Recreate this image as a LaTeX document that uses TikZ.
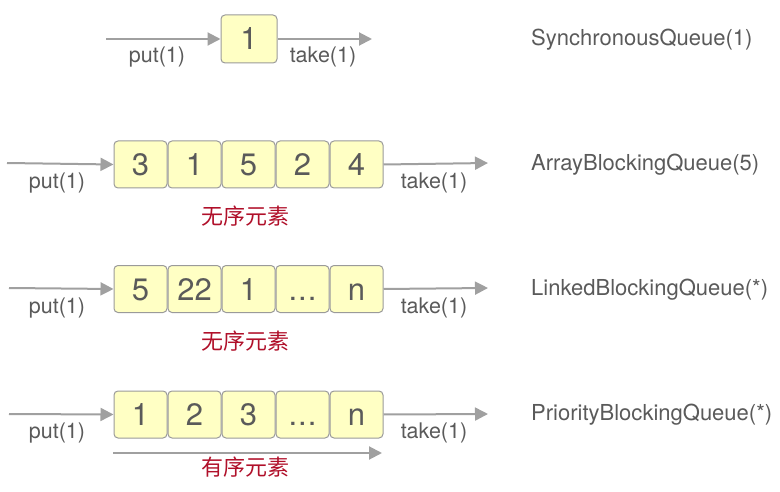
\documentclass[tikz,border=0pt]{standalone}
\usepackage{fontspec}
\setmainfont{TeX Gyre Heros}
\newfontfamily\cjk{Noto Sans CJK SC}
\usetikzlibrary{arrows.meta}
\definecolor{boxfill}{HTML}{FFFFC4}
\definecolor{boxline}{HTML}{9A9A9A}
\definecolor{arrowc}{HTML}{A0A0A0}
\definecolor{txt}{HTML}{5A5A5A}
\definecolor{redtxt}{HTML}{B0102A}
\newcommand{\mydots}{.\kern1pt.\kern1pt.}
\tikzset{
  cell/.style={draw=boxline, fill=boxfill, line width=1pt, rounded corners=4pt,
    minimum width=53pt, minimum height=47pt, inner sep=0pt, text=txt,
    text height=22pt, text depth=0pt,
    font=\fontsize{31}{31}\selectfont},
  flow/.style={draw=arrowc, line width=2pt, -{Triangle[length=13pt,width=13pt]}},
  lbl/.style={text=txt, font=\fontsize{21.5}{21.5}\selectfont, inner sep=0pt},
  qname/.style={text=txt, font=\fontsize{22}{22}\selectfont, inner sep=0pt, anchor=west},
  order/.style={text=redtxt, font=\cjk\fontsize{22}{22}\selectfont, inner sep=0pt}
}
\begin{document}
\begin{tikzpicture}[x=1pt,y=-1pt]
\useasboundingbox (0,0) rectangle (780,492);
% Row 1
\node[cell, minimum width=56pt, minimum height=48pt] (s1) at (249,39) {1};
\coordinate (s0) at (106,39);
\coordinate (sE) at (372,39);
\draw[flow] (s0) -- (s1.west);
\draw[flow] (s1.east) -- (sE);
\node[lbl] (sp) at (157,57) {put(1)};
\node[lbl] (st) at (323,57) {take(1)};
\node[qname] (sq) at (531,40) {SynchronousQueue(1)};
% Row 2
\foreach \v [count=\i] in {3,1,5,2,4}{
  \node[cell] (a\i) at ({86.5+54*\i},164.5) {\v};
}
\coordinate (a0) at (7,163);
\coordinate (aE) at (488,163);
\draw[flow] (a0) -- (a1.west);
\draw[flow] (a5.east) -- (aE);
\node[lbl] (ap) at (57,183) {put(1)};
\node[lbl] (at) at (434,183) {take(1)};
\node[order] (ao) at (245,216) {无序元素};
\node[qname] (aq) at (531,165) {ArrayBlockingQueue(5)};
% Row 3
\foreach \v [count=\i] in {5,22,1,\mydots,n}{
  \node[cell] (l\i) at ({86.5+54*\i},289) {\v};
}
\coordinate (l0) at (9,288);
\coordinate (lE) at (488,288);
\draw[flow] (l0) -- (l1.west);
\draw[flow] (l5.east) -- (lE);
\node[lbl] (lp) at (57,308) {put(1)};
\node[lbl] (lt) at (434,308) {take(1)};
\node[order] (lo) at (245,341) {无序元素};
\node[qname] (lq) at (531,290) {LinkedBlockingQueue(*)};
% Row 4
\foreach \v [count=\i] in {1,2,3,\mydots,n}{
  \node[cell] (p\i) at ({86.5+54*\i},414.5) {\v};
}
\coordinate (p0) at (9,414);
\coordinate (pE) at (488,414);
\draw[flow] (p0) -- (p1.west);
\draw[flow] (p5.east) -- (pE);
\node[lbl] (pp) at (57,433) {put(1)};
\node[lbl] (pt) at (434,433) {take(1)};
\coordinate (ps) at (113,453);
\coordinate (pe) at (382,453);
\draw[flow] (ps) -- (pe);
\node[order] (po) at (245,467) {有序元素};
\node[qname] (pq) at (531,415) {PriorityBlockingQueue(*)};
\end{tikzpicture}
\end{document}
